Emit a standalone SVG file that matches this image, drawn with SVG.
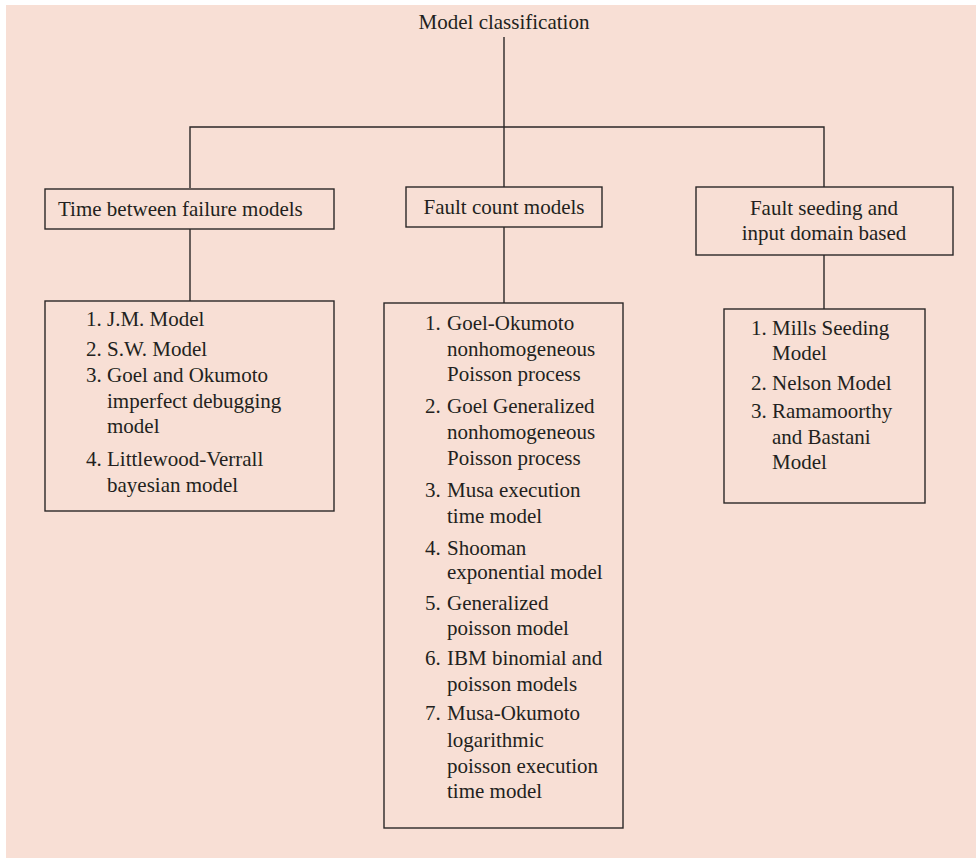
<svg xmlns="http://www.w3.org/2000/svg" width="976" height="858" viewBox="0 0 976 858">
  <style>
    .bg { fill: #F8DFD5; }
    .box { fill: none; stroke: #2B2727; stroke-width: 1.4; }
    .wire { fill: none; stroke: #2B2727; stroke-width: 1.4; }
    text { font-family: "Liberation Serif", "Times New Roman", serif; font-size: 21px; fill: #231F20; }
    .c { text-anchor: middle; }
  </style>

  <!-- page background -->
  <rect class="bg" x="6" y="5" width="970" height="853"/>

  <!-- connectors: tree from the root label down to each category and its list -->
  <g id="connectors">
    <path class="wire" d="M504,37 V127"/>
    <path class="wire" d="M190,188 V127 H824 V187"/>
    <path class="wire" d="M504,127 V187"/>
    <path class="wire" d="M190,229 V301"/>
    <path class="wire" d="M504,227 V303"/>
    <path class="wire" d="M824,255 V309"/>
  </g>

  <g id="root">
    <text class="c" x="504" y="29">Model classification</text>
  </g>

  <g id="time-between-failure">
    <rect class="box" x="45" y="189" width="289" height="40"/>
    <text x="58" y="216">Time between failure models</text>
  </g>

  <g id="fault-count">
    <rect class="box" x="406" y="187" width="196" height="40"/>
    <text class="c" x="504" y="214">Fault count models</text>
  </g>

  <g id="fault-seeding">
    <rect class="box" x="696" y="187" width="257" height="68"/>
    <text class="c" x="824" y="215">Fault seeding and</text>
    <text class="c" x="824" y="240">input domain based</text>
  </g>

  <g id="time-between-failure-list">
    <rect class="box" x="45" y="301" width="289" height="210"/>
    <text x="86" y="326">1.</text><text x="107" y="326">J.M. Model</text>
    <text x="86" y="356">2.</text><text x="107" y="356">S.W. Model</text>
    <text x="86" y="382">3.</text><text x="107" y="382">Goel and Okumoto</text>
    <text x="107" y="408">imperfect debugging</text>
    <text x="107" y="433">model</text>
    <text x="86" y="466">4.</text><text x="107" y="466">Littlewood-Verrall</text>
    <text x="107" y="492">bayesian model</text>
  </g>

  <g id="fault-count-list">
    <rect class="box" x="384" y="303" width="239" height="525"/>
    <text x="425" y="330">1.</text><text x="447" y="330">Goel-Okumoto</text>
    <text x="447" y="356">nonhomogeneous</text>
    <text x="447" y="381">Poisson process</text>
    <text x="425" y="413">2.</text><text x="447" y="413">Goel Generalized</text>
    <text x="447" y="439">nonhomogeneous</text>
    <text x="447" y="465">Poisson process</text>
    <text x="425" y="497">3.</text><text x="447" y="497">Musa execution</text>
    <text x="447" y="523">time model</text>
    <text x="425" y="555">4.</text><text x="447" y="555">Shooman</text>
    <text x="447" y="579">exponential model</text>
    <text x="425" y="610">5.</text><text x="447" y="610">Generalized</text>
    <text x="447" y="635">poisson model</text>
    <text x="425" y="665">6.</text><text x="447" y="665">IBM binomial and</text>
    <text x="447" y="691">poisson models</text>
    <text x="425" y="720">7.</text><text x="447" y="720">Musa-Okumoto</text>
    <text x="447" y="747">logarithmic</text>
    <text x="447" y="773">poisson execution</text>
    <text x="447" y="798">time model</text>
  </g>

  <g id="fault-seeding-list">
    <rect class="box" x="724" y="309" width="201" height="194"/>
    <text x="751" y="335">1.</text><text x="772" y="335">Mills Seeding</text>
    <text x="772" y="360">Model</text>
    <text x="751" y="390">2.</text><text x="772" y="390">Nelson Model</text>
    <text x="751" y="418">3.</text><text x="772" y="418">Ramamoorthy</text>
    <text x="772" y="444">and Bastani</text>
    <text x="772" y="469">Model</text>
  </g>
</svg>
